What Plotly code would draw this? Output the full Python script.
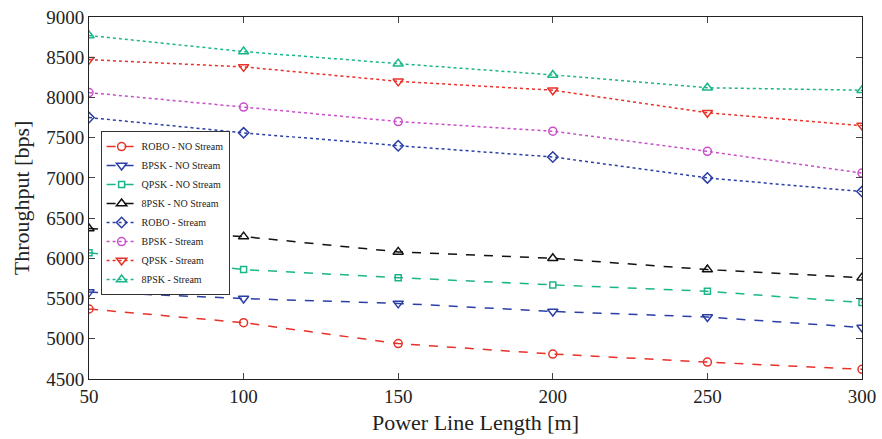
import plotly.graph_objects as go

lengths = [50, 100, 150, 200, 250, 300]

robo_no = [5370, 5200, 4940, 4810, 4710, 4620]
bpsk_no = [5580, 5500, 5440, 5340, 5270, 5140]
qpsk_no = [6070, 5860, 5760, 5670, 5590, 5450]
psk8_no = [6370, 6270, 6080, 6000, 5860, 5760]
robo_st = [7750, 7560, 7400, 7260, 7000, 6830]
bpsk_st = [8060, 7880, 7700, 7580, 7330, 7060]
qpsk_st = [8470, 8380, 8200, 8090, 7810, 7650]
psk8_st = [8770, 8570, 8420, 8280, 8120, 8090]

series = [
    ("ROBO - NO Stream", robo_no, "#e8312a", "circle-open", "dash", 8),
    ("BPSK - NO Stream", bpsk_no, "#2b3fa6", "triangle-down-open", "dash", 9),
    ("QPSK - NO Stream", qpsk_no, "#1bb58a", "square-open", "dash", 6),
    ("8PSK - NO Stream", psk8_no, "#111111", "triangle-up-open", "dash", 9),
    ("ROBO - Stream", robo_st, "#2b3fa6", "diamond-open", "dot", 8),
    ("BPSK - Stream", bpsk_st, "#c84fc8", "circle-open", "dot", 8),
    ("QPSK - Stream", qpsk_st, "#e8312a", "triangle-down-open", "dot", 9),
    ("8PSK - Stream", psk8_st, "#1bb58a", "triangle-up-open", "dot", 9),
]

fig = go.Figure()
for name, vals, col, sym, dash, ms in series:
    fig.add_trace(go.Scatter(
        x=lengths, y=vals, name=name, mode="lines+markers",
        line=dict(color=col, dash=dash, width=1.5),
        marker=dict(symbol=sym, size=ms, color=col, line=dict(width=1.5, color=col)),
    ))

font = "Liberation Serif, DejaVu Serif, serif"
fig.update_layout(
    width=882, height=439,
    margin=dict(l=89, r=20, t=17, b=60),
    paper_bgcolor="white", plot_bgcolor="white",
    font=dict(family=font, color="#222222", size=16),
    showlegend=True,
    legend=dict(x=0.015, y=0.685, xanchor="left", yanchor="top",
                bgcolor="white", bordercolor="#333333", borderwidth=1,
                font=dict(family=font, size=10, color="#222222"),
                tracegroupgap=0, itemwidth=30),
    xaxis=dict(range=[50, 300], tickvals=lengths, ticks="inside", ticklen=6,
               showline=True, linecolor="#222222", linewidth=1, mirror="allticks",
               showgrid=False, zeroline=False, automargin=False,
               title=dict(text="Power Line Length [m]", font=dict(size=22), standoff=8),
               tickfont=dict(size=19)),
    yaxis=dict(range=[4500, 9000], dtick=500, ticks="inside", ticklen=6,
               showline=True, linecolor="#222222", linewidth=1, mirror="allticks",
               showgrid=False, zeroline=False, automargin=False,
               title=dict(text="Throughput [bps]", font=dict(size=22), standoff=10),
               tickfont=dict(size=19)),
)

fig.write_html("out.html", config={"displayModeBar": False},
               post_script="document.body.style.margin='0';document.body.style.overflow='hidden';")
